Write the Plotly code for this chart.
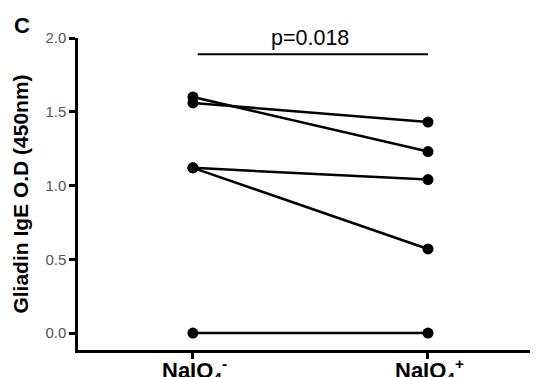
import plotly.graph_objects as go

groups = ["NaIO<sub>4</sub><sup>-</sup>", "NaIO<sub>4</sub><sup>+</sup>"]
before = [1.60, 1.56, 1.12, 1.12, 0.00]
after = [1.23, 1.43, 1.04, 0.57, 0.00]
p_label = "p=0.018"
y_ticks = [0.0, 0.5, 1.0, 1.5, 2.0]
y_ticklabels = ["0.0", "0.5", "1.0", "1.5", "2.0"]

FONT = "Liberation Sans, Arial"
OFF = 8  # page body margin offset
W, H = 538, 377
L, T = 78 - OFF, 38 - OFF
R = W - (538 - OFF)
B = H - (350 - OFF)
PW, PH = W - L - R, H - T - B

fig = go.Figure()
for b, a in zip(before, after):
    fig.add_trace(go.Scatter(
        x=[0, 1], y=[b, a], mode="lines+markers",
        line=dict(color="black", width=2.5),
        marker=dict(color="black", size=11),
        showlegend=False, cliponaxis=False))

fig.add_shape(type="line", x0=0.02, x1=1.0, y0=1.89, y1=1.89,
              xref="x", yref="y", line=dict(color="black", width=2))
fig.add_annotation(x=0.5, y=1.89, xref="x", yref="y", text=p_label,
                   showarrow=False, yanchor="bottom", yshift=2,
                   font=dict(family=FONT, size=21.5, color="black"))
cx, cy = 22 - OFF, 26 - OFF
fig.add_annotation(x=(cx - L) / PW, y=(H - B - cy) / PH, xref="paper", yref="paper",
                   text="<b>C</b>", showarrow=False, xanchor="center", yanchor="middle",
                   font=dict(family=FONT, size=22, color="black"))

# category labels under the x axis (tick text), placed like the reference
label_top = 353 - OFF
for i, g in enumerate(groups):
    fig.add_annotation(x=i, y=(H - B - label_top) / PH, xref="x", yref="paper",
                       text="<b>" + g + "</b>", showarrow=False,
                       xanchor="center", yanchor="top", xshift=2,
                       font=dict(family=FONT, size=22, color="black"))

fig.update_layout(
    width=W, height=H,
    margin=dict(l=L, r=R, t=T, b=B, autoexpand=False),
    plot_bgcolor="white", paper_bgcolor="white",
    font=dict(family=FONT, color="black"),
    xaxis=dict(range=[-0.489, 1.468], tickvals=[0, 1], ticktext=["", ""], automargin=False,
               showgrid=False, zeroline=False, showline=True, linecolor="black",
               linewidth=2.5, ticks="outside", ticklen=6, tickwidth=2.5, tickcolor="black"),
    yaxis=dict(range=[-0.115, 2.0], tickvals=y_ticks, ticktext=y_ticklabels, automargin=False,
               showgrid=False, zeroline=False, showline=True, linecolor="black",
               linewidth=2.5, ticks="outside", ticklen=6, tickwidth=2.5, tickcolor="black",
               tickfont=dict(family=FONT, size=15, color="#555555"),
               title=dict(text="<b>Gliadin IgE O.D (450nm)</b>", standoff=12,
                          font=dict(family=FONT, size=21, color="black"))),
)

fig.write_html("out.html")
